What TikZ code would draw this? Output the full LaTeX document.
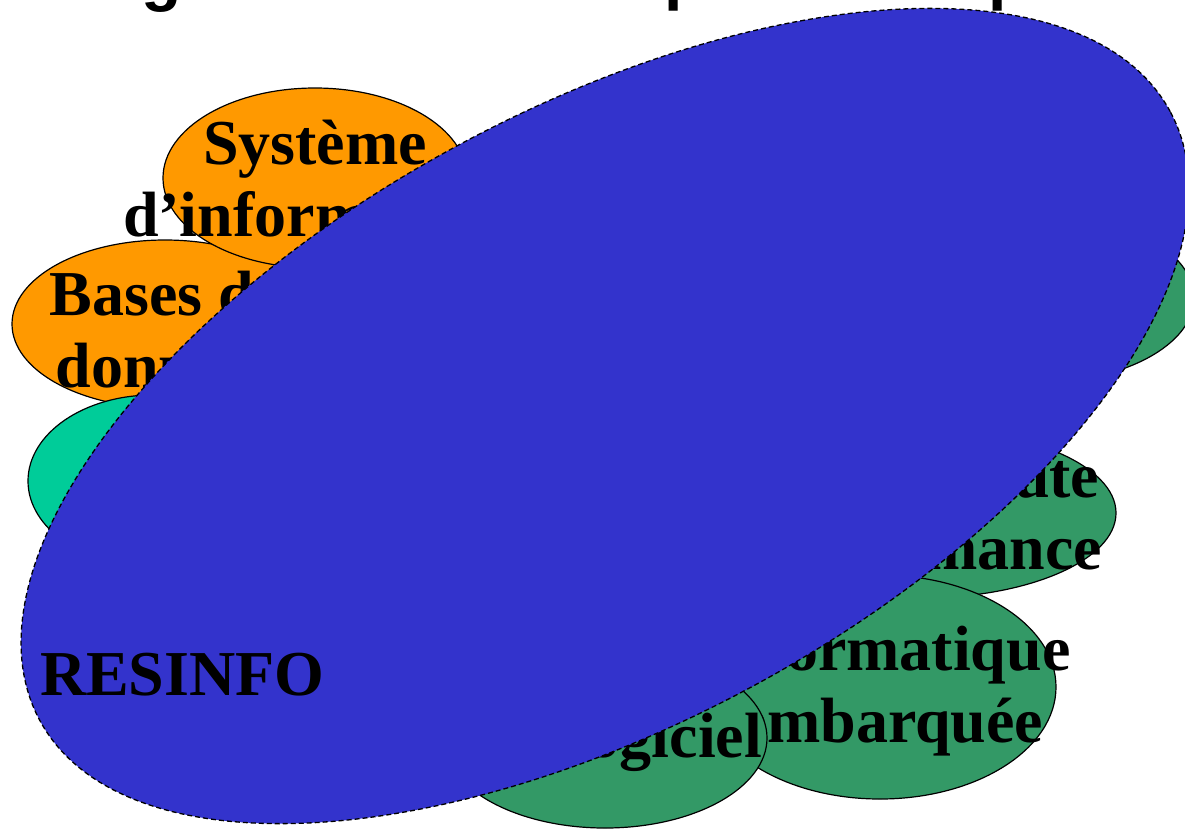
\documentclass[tikz,border=0pt]{standalone}
\usepackage{fontspec}
\setmainfont{Liberation Serif}
\newfontfamily\titlefont{Liberation Sans}
\usetikzlibrary{shapes.geometric}
\definecolor{orangeA}{HTML}{FF9900}
\definecolor{tealA}{HTML}{00CC99}
\definecolor{greenA}{HTML}{339966}
\definecolor{blueA}{HTML}{3333CC}
\tikzset{
  blob/.style={ellipse, draw=black, line width=1.2pt, inner sep=0pt, outer sep=0pt},
  lbl/.style={inner sep=0pt, outer sep=0pt, align=center, text=black,
    font=\fontsize{64}{72}\selectfont\bfseries},
  ttl/.style={inner sep=0pt, outer sep=0pt, anchor=base west,
    font=\titlefont\fontsize{66}{70}\selectfont\bfseries},
  bigblob/.style={ellipse, draw=black, line width=1.3pt, dash pattern=on 5pt off 3pt,
    fill=blueA, inner sep=0pt, outer sep=0pt}
}
\begin{document}
\begin{tikzpicture}[x=1pt,y=-1pt]
\useasboundingbox (0,0) rectangle (1185,828);
% title (only descenders visible)
\node[ttl] (t1) at (141,-2) {g};
\node[ttl] (t2) at (664,-3) {p};
\node[ttl] (t3) at (988,-3) {p};
% left group
\node[blob, fill=orangeA, minimum width=306pt, minimum height=168pt] (bd) at (165,324) {};
\node[lbl] (bdt) at (166,330) {Bases de\\données};
\node[blob, fill=orangeA, minimum width=304pt, minimum height=180pt] (si) at (315,178) {};
\node[lbl] (sit) at (315,179) {Système\\d’information};
\node[blob, fill=tealA, minimum width=250pt, minimum height=172pt] (te) at (153,481) {};
% right group
\node[blob, fill=greenA, minimum width=318pt, minimum height=170pt] (rs) at (1035,298) {};
\node[blob, fill=greenA, minimum width=390pt, minimum height=170pt] (hp) at (921,513) {};
\node[lbl] (hpt) at (926,518) {Calcul haute\\performance};
\node[blob, fill=greenA, minimum width=352pt, minimum height=224pt] (ie) at (880,687) {};
\node[lbl] (iet) at (891,691) {informatique\\embarquée};
\node[blob, fill=greenA, minimum width=324pt, minimum height=180pt] (gl) at (605,738) {};
\node[lbl, anchor=base] (glt) at (578,757) {Génie logiciel};
% big ellipse
\node[bigblob, rotate=28.3, minimum width=1284pt, minimum height=616pt] (re) at (605,416) {};
\node[lbl, anchor=base west] (ret) at (40,695) {RESINFO};
\end{tikzpicture}
\end{document}
